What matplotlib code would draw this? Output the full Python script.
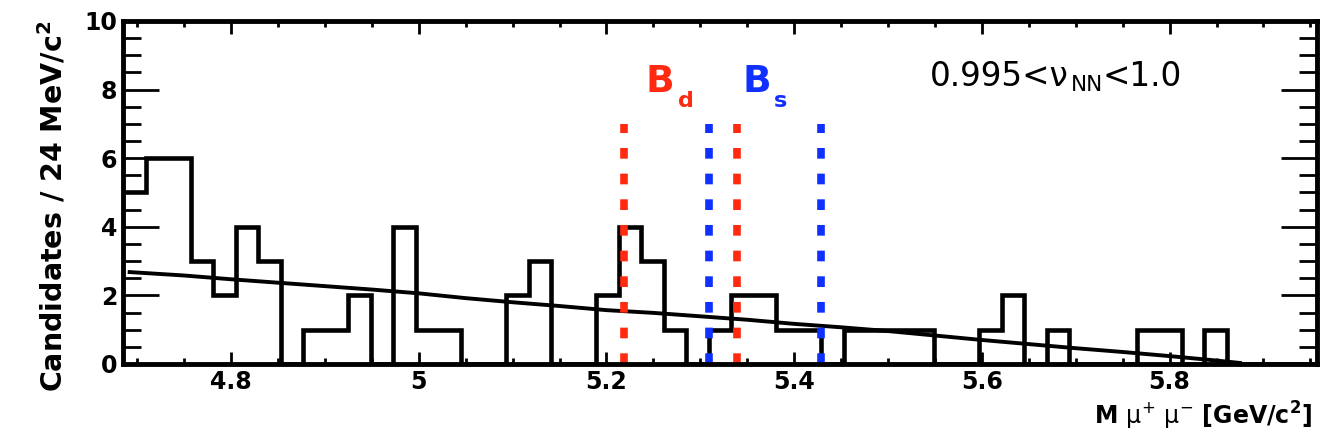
import matplotlib
matplotlib.use("Agg")
import matplotlib.pyplot as plt
import numpy as np
from matplotlib.ticker import MultipleLocator, FuncFormatter

plt.rcParams['font.family'] = ['DejaVu Sans']
plt.rcParams['mathtext.fontset'] = 'dejavusans'

# histogram: 24 MeV bins starting at 4.685 GeV
x_start = 4.685
bin_width = 0.024
counts = [5, 6, 6, 3, 2, 4, 3, 0, 1, 1,
          2, 0, 4, 1, 1, 0, 0, 2, 3, 0,
          0, 2, 4, 3, 1, 0, 1, 2, 2, 1,
          1, 0, 1, 1, 1, 1, 0, 0, 1, 2,
          0, 1, 0, 0, 0, 1, 1, 0, 1, 0,
          0, 0, 0]

# background fit
fit_x = [4.692, 4.75, 4.80, 4.85, 4.90, 4.95, 5.00, 5.05, 5.10, 5.15, 5.20, 5.25, 5.30,
         5.35, 5.40, 5.45, 5.50, 5.55, 5.60, 5.65, 5.70, 5.75, 5.80, 5.85, 5.875]
fit_y = [2.68, 2.58, 2.47, 2.37, 2.27, 2.17, 2.06, 1.92, 1.80, 1.69, 1.57, 1.49, 1.39,
         1.29, 1.17, 1.07, 0.96, 0.83, 0.70, 0.58, 0.46, 0.35, 0.23, 0.10, 0.03]

# mass windows
bd_window = [5.219, 5.339]
bs_window = [5.309, 5.429]
window_top = 7

red = '#ff2a10'
blue = '#1030ff'

edges = x_start + bin_width * np.arange(len(counts) + 1)

fig = plt.figure(figsize=(13.26, 4.42), dpi=100)
ax = fig.add_axes([0.0928, 0.1765, 0.9004, 0.776])

ax.stairs(counts, edges, baseline=None, color='black', lw=3.3)
ax.plot(fit_x, fit_y, color='black', lw=2.8)

dash = (0, (1.4, 1.96))
ax.vlines(bs_window, 0, window_top, colors=blue, linestyles=[dash], lw=5.5)
ax.vlines(bd_window, 0, window_top, colors=red, linestyles=[dash], lw=5.5)

# B_d and B_s labels, subscript placed by hand (ROOT style, lower than mathtext)
bd = ax.text(5.2417, 7.92, "B", color=red, fontsize=27, fontweight='bold',
             ha='left', va='baseline')
ax.annotate("d", xy=(1, 0), xycoords=bd, xytext=(3, -8), textcoords='offset points',
            color=red, fontsize=16, fontweight='bold', va='bottom')
bs = ax.text(5.3445, 7.92, "B", color=blue, fontsize=27, fontweight='bold',
             ha='left', va='baseline')
ax.annotate("s", xy=(1, 0), xycoords=bs, xytext=(2.5, -8), textcoords='offset points',
            color=blue, fontsize=16, fontweight='bold', va='bottom')

# 0.995<nu_NN<1.0
t1 = ax.text(5.545, 8.11, "0.995<ν", fontsize=23.5, ha='left', va='baseline')
t2 = ax.annotate("NN", xy=(1, 0), xycoords=t1, xytext=(1, -1.4), textcoords='offset points',
                 fontsize=15.5, va='bottom')
ax.annotate("<1.0", xy=(1, 0), xycoords=(t2, t1), xytext=(0, 0), textcoords='offset points',
            fontsize=23.5, va='bottom')

ax.set_xlim(edges[0], edges[-1])
ax.set_ylim(0, 10)

ax.xaxis.set_major_locator(MultipleLocator(0.2))
ax.xaxis.set_minor_locator(MultipleLocator(0.05))
ax.yaxis.set_major_locator(MultipleLocator(2))
ax.yaxis.set_minor_locator(MultipleLocator(0.5))
ax.xaxis.set_major_formatter(FuncFormatter(lambda v, p: f"{round(v, 2):g}"))
ax.yaxis.set_major_formatter(FuncFormatter(lambda v, p: f"{round(v):g}"))

ax.tick_params(which='both', direction='in', top=True, right=True, width=2)
ax.tick_params(axis='x', which='major', length=9, pad=4)
ax.tick_params(axis='x', which='minor', length=4.5)
ax.tick_params(axis='y', which='major', length=26, pad=4)
ax.tick_params(axis='y', which='minor', length=13)
for lab in ax.get_xticklabels() + ax.get_yticklabels():
    lab.set_fontsize(17)
    lab.set_fontweight('bold')

for s in ax.spines.values():
    s.set_linewidth(3.5)

ax.set_ylabel(r"Candidates / 24 MeV/c$^{\mathbf{2}}$", fontsize=20.5, fontweight='bold')
ax.yaxis.set_label_coords(-0.0456, 1.0)
ax.yaxis.label.set_horizontalalignment('right')
ax.set_xlabel(r"M $\mathrm{\mu}^{+}$ $\mathrm{\mu}^{-}$ [GeV/c$^{\mathbf{2}}$]",
              fontsize=17, fontweight='bold')
ax.xaxis.set_label_coords(0.996, -0.105)
ax.xaxis.label.set_horizontalalignment('right')

fig.savefig("out.png", dpi=100)
